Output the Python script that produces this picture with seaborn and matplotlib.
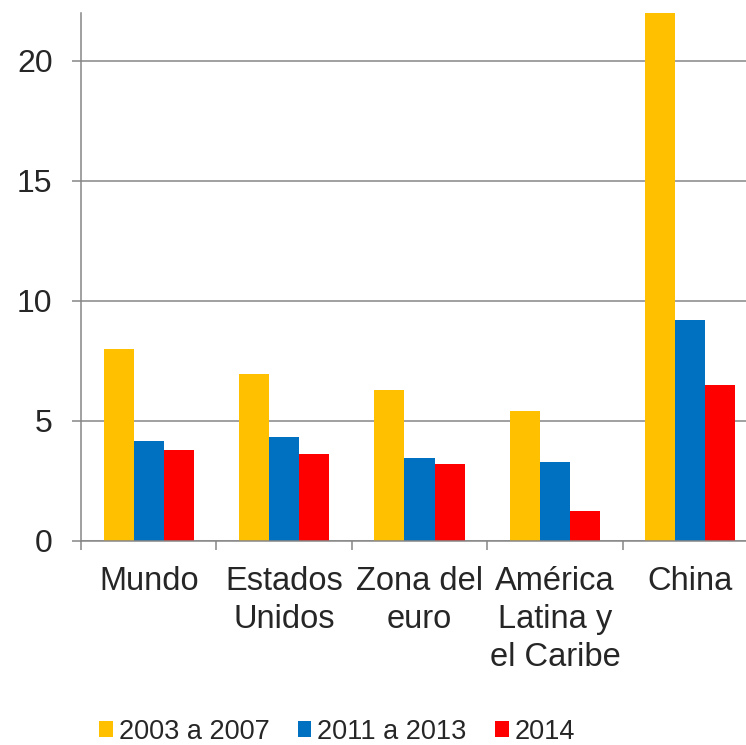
import numpy as np
import pandas as pd
import seaborn as sns
import matplotlib.pyplot as plt
from matplotlib.patches import Patch

# data
regiones = ["Mundo", "Estados\nUnidos", "Zona del\neuro", "América\nLatina y\nel Caribe", "China"]
periodos = ["2003 a 2007", "2011 a 2013", "2014"]
p2003_2007 = [8.0, 6.95, 6.28, 5.40, 22.5]
p2011_2013 = [4.15, 4.33, 3.47, 3.28, 9.22]
p2014 = [3.79, 3.61, 3.19, 1.24, 6.51]
colores = ["#FFC000", "#0070C0", "#FF0000"]

df = pd.DataFrame({
    "region": regiones * 3,
    "periodo": np.repeat(periodos, len(regiones)),
    "valor": p2003_2007 + p2011_2013 + p2014,
})

sns.set_style("white")
plt.rcParams['font.family'] = ['Liberation Sans', 'DejaVu Sans']

fig = plt.figure(figsize=(7.46, 7.45), dpi=100)
ax = fig.add_axes([81/746, 204/745, 677/746, 528/745])

sns.barplot(data=df, x="region", y="valor", hue="periodo", palette=colores,
            width=0.665, gap=0, saturation=1, linewidth=0, ax=ax, legend=False)

ax.set_ylim(0, 22)
ax.set_xlim(-0.5, 4.5)
ax.set_yticks([0, 5, 10, 15, 20])
ax.yaxis.grid(True, color="#868686", linewidth=1.1)
ax.set_axisbelow(True)
ax.set_xlabel("")
ax.set_ylabel("")

# tick marks at category boundaries, labels at centres
ax.set_xticks(np.arange(-0.5, 5, 1))
ax.set_xticklabels([])
ax.set_xticks(range(5), minor=True)
ax.set_xticklabels(regiones, minor=True, fontsize=23.5, linespacing=1.3)
ax.tick_params(axis="x", which="major", length=6.5, width=1.1, color="#868686", direction="out", bottom=True)
ax.tick_params(axis="x", which="minor", length=0, pad=18)
ax.tick_params(axis="y", length=6.5, width=1.1, color="#868686", direction="out", left=True, labelsize=23, pad=14)

for s in ["top", "right"]:
    ax.spines[s].set_visible(False)
for s in ["left", "bottom"]:
    ax.spines[s].set_color("#868686")
    ax.spines[s].set_linewidth(1.1)

handles = [Patch(facecolor=c, edgecolor="none") for c in colores]
fig.legend(handles, periodos, loc="center", bbox_to_anchor=(0.452, 0.018), ncol=3,
           frameon=False, fontsize=19.5, handlelength=0.5, handleheight=0.5,
           handletextpad=0.22, columnspacing=1.05, borderpad=0)

fig.savefig("out.png", dpi=100)
